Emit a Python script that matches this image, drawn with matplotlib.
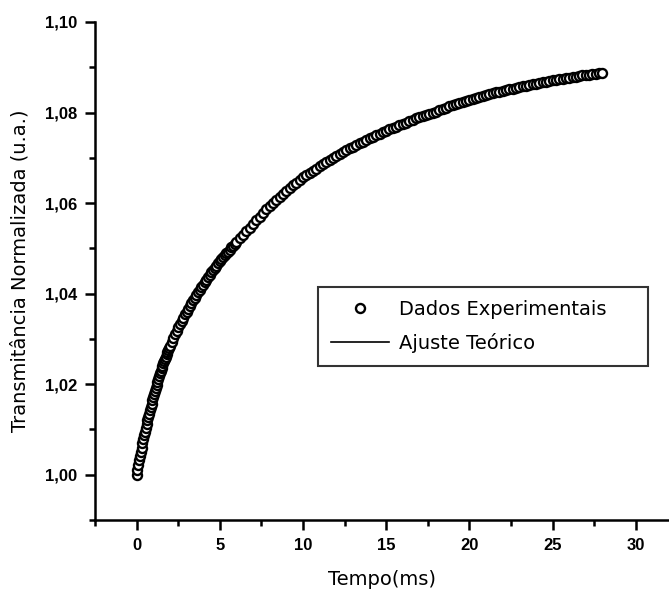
import numpy as np
import matplotlib
matplotlib.use("Agg")
import matplotlib.pyplot as plt
from matplotlib.ticker import MultipleLocator, FuncFormatter

plt.rcParams['font.family'] = ['DejaVu Sans']

# --- data ---
# experimental points: dense at the start (steep rise), coarser later
tempo = np.concatenate([
    np.round(np.arange(0, 1.99, 0.05), 2),    # 0.00 .. 1.95
    np.round(np.arange(2.0, 5.95, 0.1), 1),   # 2.0 .. 5.9
    np.round(np.arange(6.0, 28.01, 0.2), 1),  # 6.0 .. 28.0
])
transmitancia = [
    # 0.00 - 1.95 ms
    1.0000, 1.0011, 1.0022, 1.0032, 1.0042, 1.0051, 1.0060, 1.0069, 1.0078, 1.0087,
    1.0095, 1.0104, 1.0112, 1.0120, 1.0127, 1.0135, 1.0142, 1.0150, 1.0157, 1.0165,
    1.0172, 1.0179, 1.0186, 1.0192, 1.0199, 1.0205, 1.0212, 1.0218, 1.0224, 1.0230,
    1.0235, 1.0241, 1.0246, 1.0251, 1.0256, 1.0261, 1.0266, 1.0271, 1.0276, 1.0280,
    # 2.0 - 5.9 ms
    1.0285, 1.0294, 1.0302, 1.0310, 1.0318, 1.0326, 1.0333, 1.0340, 1.0347, 1.0354,
    1.0360, 1.0367, 1.0373, 1.0379, 1.0385, 1.0391, 1.0397, 1.0403, 1.0409, 1.0415,
    1.0420, 1.0426, 1.0431, 1.0437, 1.0442, 1.0447, 1.0452, 1.0457, 1.0462, 1.0467,
    1.0471, 1.0476, 1.0480, 1.0485, 1.0489, 1.0493, 1.0497, 1.0502, 1.0506, 1.0510,
    # 6.0 - 28.0 ms
    1.0514, 1.0522, 1.0530, 1.0538, 1.0546, 1.0554, 1.0562, 1.0570, 1.0578, 1.0586,
    1.0594, 1.0601, 1.0607, 1.0614, 1.0620, 1.0627, 1.0633, 1.0639, 1.0645, 1.0651,
    1.0657, 1.0661, 1.0666, 1.0671, 1.0676, 1.0681, 1.0686, 1.0691, 1.0695, 1.0700,
    1.0705, 1.0709, 1.0713, 1.0717, 1.0721, 1.0725, 1.0729, 1.0732, 1.0736, 1.0740,
    1.0743, 1.0746, 1.0750, 1.0753, 1.0757, 1.0760, 1.0763, 1.0766, 1.0769, 1.0772,
    1.0775, 1.0778, 1.0781, 1.0784, 1.0787, 1.0790, 1.0792, 1.0795, 1.0797, 1.0800,
    1.0802, 1.0805, 1.0808, 1.0811, 1.0814, 1.0817, 1.0819, 1.0821, 1.0823, 1.0826,
    1.0828, 1.0830, 1.0832, 1.0835, 1.0837, 1.0839, 1.0841, 1.0843, 1.0845, 1.0846,
    1.0848, 1.0850, 1.0851, 1.0853, 1.0854, 1.0856, 1.0858, 1.0859, 1.0861, 1.0862,
    1.0864, 1.0865, 1.0867, 1.0868, 1.0870, 1.0871, 1.0872, 1.0873, 1.0875, 1.0876,
    1.0877, 1.0878, 1.0879, 1.0881, 1.0882, 1.0883, 1.0884, 1.0885, 1.0886, 1.0887,
    1.0888,
]

# theoretical fit curve
ajuste_t = [0, 0.5, 1, 1.5, 2, 2.5, 3, 3.5, 4, 4.5, 5, 6, 7, 8, 9, 10, 11, 12, 13, 14,
            15, 16, 17, 18, 19, 20, 21, 22, 23, 24, 25, 26, 27, 28]
ajuste_y = [1.0000, 1.0095, 1.0172, 1.0235, 1.0285, 1.0326, 1.0360, 1.0391, 1.0420,
            1.0447, 1.0471, 1.0514, 1.0554, 1.0594, 1.0627, 1.0657, 1.0681, 1.0705,
            1.0725, 1.0743, 1.0760, 1.0775, 1.0790, 1.0802, 1.0817, 1.0828, 1.0839,
            1.0848, 1.0856, 1.0864, 1.0871, 1.0877, 1.0883, 1.0888]

fig = plt.figure(figsize=(6.69, 5.93), dpi=100)
ax = fig.add_axes([95 / 669, 73 / 593, 574 / 669, 498 / 593])

ax.plot(ajuste_t, ajuste_y, color='black', linewidth=1.2, label='Ajuste Teórico', zorder=2)
ax.plot(tempo, transmitancia, linestyle='none', marker='o', markersize=6.5,
        markerfacecolor='white', markeredgecolor='black', markeredgewidth=1.7,
        label='Dados Experimentais', zorder=3)

ax.set_xlim(-2.5, 32)
ax.set_ylim(0.99, 1.10)

ax.xaxis.set_major_locator(MultipleLocator(5))
ax.xaxis.set_minor_locator(MultipleLocator(2.5))
ax.yaxis.set_major_locator(MultipleLocator(0.02))
ax.yaxis.set_minor_locator(MultipleLocator(0.01))
ax.yaxis.set_major_formatter(FuncFormatter(lambda v, p: f"{v:.2f}".replace('.', ',')))
ax.xaxis.set_major_formatter(FuncFormatter(lambda v, p: f"{v:.0f}"))

for side in ['top', 'right']:
    ax.spines[side].set_visible(False)
for side in ['left', 'bottom']:
    ax.spines[side].set_linewidth(1.8)

ax.tick_params(which='major', direction='out', length=7, width=1.8, labelsize=12, pad=6)
ax.tick_params(which='minor', direction='out', length=4, width=1.8)
for lbl in ax.get_xticklabels() + ax.get_yticklabels():
    lbl.set_fontweight('bold')
    lbl.set_family('Liberation Sans')

ax.set_xlabel('Tempo(ms)', fontsize=14, labelpad=12)
ax.set_ylabel('Transmitância Normalizada (u.a.)', fontsize=14, labelpad=11)

handles, labels = ax.get_legend_handles_labels()
leg = ax.legend(handles[::-1], labels[::-1], loc='upper left',
                bbox_to_anchor=(0.3885, 0.312, 0.575, 0.156), mode='expand',
                borderaxespad=0, fontsize=14, frameon=True, fancybox=False,
                borderpad=0.65, handlelength=3.0, handletextpad=0.5, labelspacing=0.75)
leg.get_frame().set_edgecolor('black')
leg.get_frame().set_linewidth(1.5)

fig.savefig('out.png', dpi=100)
